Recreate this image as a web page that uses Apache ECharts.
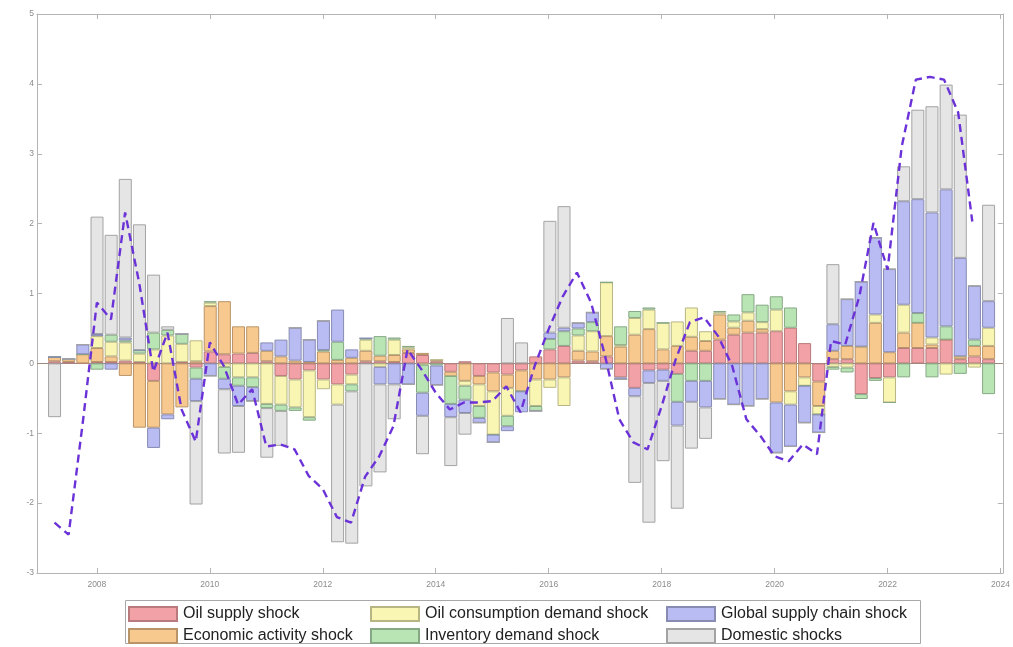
<!DOCTYPE html>
<html>
<head>
<meta charset="utf-8">
<script src="https://cdn.jsdelivr.net/npm/echarts@6/dist/echarts.min.js"></script>
<style>
html, body { margin: 0; padding: 0; background: #ffffff; }
#chart { width: 1013px; height: 647px; }
</style>
</head>
<body>
<div id="chart"></div>
<script>
// Quarterly periods of the historical decomposition
const quarters = [
  '2007Q2','2007Q3','2007Q4',
  '2008Q1','2008Q2','2008Q3','2008Q4',
  '2009Q1','2009Q2','2009Q3','2009Q4',
  '2010Q1','2010Q2','2010Q3','2010Q4',
  '2011Q1','2011Q2','2011Q3','2011Q4',
  '2012Q1','2012Q2','2012Q3','2012Q4',
  '2013Q1','2013Q2','2013Q3','2013Q4',
  '2014Q1','2014Q2','2014Q3','2014Q4',
  '2015Q1','2015Q2','2015Q3','2015Q4',
  '2016Q1','2016Q2','2016Q3','2016Q4',
  '2017Q1','2017Q2','2017Q3','2017Q4',
  '2018Q1','2018Q2','2018Q3','2018Q4',
  '2019Q1','2019Q2','2019Q3','2019Q4',
  '2020Q1','2020Q2','2020Q3','2020Q4',
  '2021Q1','2021Q2','2021Q3','2021Q4',
  '2022Q1','2022Q2','2022Q3','2022Q4',
  '2023Q1','2023Q2','2023Q3','2023Q4'
];

// Shock contributions
const oilSupply = [
  0.03, 0.02, 0.00, 0.02, 0.02, 0.04, 0.02, -0.25, 0.00, 0.02,
  -0.06, 0.17, 0.13, 0.14, 0.15, 0.03, -0.18, -0.23, -0.10, -0.23,
  -0.30, -0.16, 0.03, 0.03, 0.02, 0.15, 0.12, 0.03, -0.12, 0.03,
  -0.18, -0.13, -0.16, -0.10, 0.10, 0.20, 0.25, 0.04, 0.03, 0.10,
  -0.20, -0.35, -0.10, -0.09, -0.15, 0.18, 0.18, 0.34, 0.41, 0.44,
  0.44, 0.46, 0.51, 0.29, -0.26, 0.06, 0.06, -0.44, -0.21, -0.20,
  0.22, 0.22, 0.22, 0.34, 0.06, 0.10, 0.06
];
const economicActivity = [
  0.06, 0.04, 0.13, 0.20, 0.08, -0.18, -0.92, -0.67, -0.73, -0.63,
  0.03, 0.65, 0.76, 0.39, 0.38, 0.15, 0.10, 0.04, 0.02, 0.17,
  0.05, 0.08, 0.15, 0.08, 0.10, 0.05, 0.03, 0.02, -0.06, -0.25,
  -0.12, -0.27, -0.19, -0.30, -0.23, -0.23, -0.20, 0.14, 0.14, 0.29,
  0.24, 0.41, 0.49, 0.20, 0.25, 0.20, 0.14, 0.36, 0.10, 0.17,
  0.05, -0.56, -0.40, -0.20, -0.35, 0.12, 0.19, 0.24, 0.58, 0.16,
  0.22, 0.36, 0.05, 0.00, 0.04, 0.15, 0.19
];
const oilConsumption = [
  0.00, 0.00, 0.00, 0.17, 0.21, 0.26, 0.12, 0.20, 0.40, 0.26,
  0.30, 0.05, -0.05, -0.20, -0.20, -0.58, -0.41, -0.40, -0.67, -0.14,
  -0.29, -0.14, 0.16, -0.05, 0.22, 0.03, -0.02, 0.00, 0.00, -0.07,
  -0.31, -0.62, -0.40, 0.00, -0.38, -0.12, -0.41, 0.22, 0.29, 0.77,
  0.02, 0.24, 0.28, 0.38, 0.35, 0.42, 0.14, 0.03, 0.09, 0.12,
  0.10, 0.31, -0.19, -0.12, -0.12, -0.05, -0.06, 0.00, 0.12, -0.36,
  0.40, 0.00, 0.10, -0.16, 0.00, -0.06, 0.26
];
const inventoryDemand = [
  0.00, 0.00, 0.00, -0.09, 0.10, 0.03, 0.05, 0.24, 0.08, 0.14,
  -0.16, 0.02, -0.17, -0.12, -0.14, -0.06, -0.09, -0.05, -0.05, 0.02,
  0.26, -0.10, 0.02, 0.28, 0.03, 0.02, -0.40, -0.03, -0.40, -0.20,
  -0.17, 0.00, -0.15, 0.00, -0.07, 0.15, 0.21, 0.10, 0.13, 0.00,
  0.27, 0.10, 0.03, 0.00, -0.40, -0.25, -0.25, 0.02, 0.10, 0.26,
  0.25, 0.19, 0.29, 0.00, 0.00, -0.04, -0.07, -0.07, -0.04, 0.00,
  -0.20, 0.14, -0.20, 0.19, -0.15, 0.09, -0.44
];
const globalSupplyChain = [
  0.00, 0.00, 0.14, 0.03, -0.09, 0.04, 0.00, -0.29, -0.07, 0.00,
  -0.32, -0.18, -0.15, -0.29, -0.20, 0.12, 0.24, 0.47, 0.32, 0.42,
  0.46, 0.12, 0.00, -0.25, -0.30, -0.30, -0.33, -0.28, -0.19, -0.19,
  -0.07, -0.11, -0.07, -0.30, 0.00, 0.09, 0.05, 0.08, 0.14, -0.08,
  -0.03, -0.12, -0.18, -0.16, -0.34, -0.30, -0.38, -0.51, -0.59, -0.61,
  -0.51, -0.72, -0.60, -0.53, -0.26, 0.38, 0.67, 0.93, 1.10, 1.19,
  1.48, 1.63, 1.79, 1.96, 1.41, 0.77, 0.38
];
const domestic = [
  -0.77, 0.00, 0.00, 1.68, 1.43, 2.27, 1.80, 0.83, 0.05, 0.00,
  -1.48, 0.00, -0.92, -0.67, 0.00, -0.71, -0.50, 0.00, 0.00, 0.00,
  -1.97, -2.18, -1.76, -1.26, -0.50, 0.00, -0.55, 0.00, -0.70, -0.31,
  0.00, 0.00, 0.65, 0.30, 0.00, 1.60, 1.74, 0.00, 0.00, 0.00,
  0.00, -1.24, -2.00, -1.15, -1.19, -0.67, -0.45, 0.00, 0.00, 0.00,
  0.00, 0.00, 0.00, 0.00, 0.00, 0.86, 0.00, 0.00, 0.00, 0.00,
  0.50, 1.28, 1.52, 1.50, 2.05, 0.00, 1.38
];
// Observed series (dashed line); no value for the last quarter
const observed = [
  -2.28, -2.45, -0.85, 0.87, 0.63, 2.16, 1.15, -0.12, 0.44, -0.66,
  -1.12, 0.30, -0.04, -0.59, -0.37, -1.19, -1.16, -1.23, -1.61, -1.80,
  -2.20, -2.28, -1.62, -1.33, -0.90, 0.20, -0.09, -0.42, -0.66, -0.56,
  -0.56, -0.54, -0.33, -0.70, -0.04, 0.49, 0.96, 1.30, 0.87, 0.10,
  -0.80, -1.13, -1.23, -0.61, 0.06, 0.59, 0.66, 0.39, -0.04, -0.80,
  -1.04, -1.33, -1.40, -1.16, -1.30, 0.32, 0.27, 0.96, 2.01, 1.34,
  3.10, 4.06, 4.10, 4.06, 3.59, 2.03, null
];

const yearTicks = [2008, 2010, 2012, 2014, 2016, 2018, 2020, 2022, 2024];
const valueTicks = [-3, -2, -1, 0, 1, 2, 3, 4, 5];

// Plot frame in decimal years
const xMin = 2006.94;
const xMax = 2024.04;

// Decimal year of each quarter (start of quarter)
const xs = quarters.map(q => parseInt(q.slice(0, 4), 10) + (parseInt(q.slice(5), 10) - 1) / 4);

const shocks = [
  { name: 'Oil supply shock', values: oilSupply, fill: '#f2a2a6', edge: '#b87a7c' },
  { name: 'Economic activity shock', values: economicActivity, fill: '#f8c98e', edge: '#b99468' },
  { name: 'Oil consumption demand shock', values: oilConsumption, fill: '#f9f6b3', edge: '#b8b584' },
  { name: 'Inventory demand shock', values: inventoryDemand, fill: '#b9e5b5', edge: '#87a885' },
  { name: 'Global supply chain shock', values: globalSupplyChain, fill: '#b8bcf2', edge: '#888bb2' },
  { name: 'Domestic shocks', values: domestic, fill: '#e5e5e5', edge: '#a3a3a3' }
];

const W = 1013;
const plotLeft = 37, plotRight = 1005, plotTop = 14, plotBottom = 573;
const pxPerYear = (plotRight - plotLeft) / (xMax - xMin);
// The bar grid's category band spans exactly the quarters (half a quarter either side)
const barLeft = plotLeft + (xs[0] - 0.125 - xMin) * pxPerYear;
const barRightEdge = plotLeft + (xs[xs.length - 1] + 0.125 - xMin) * pxPerYear;

const chart = echarts.init(document.getElementById('chart'), null, { renderer: 'canvas' });

const axisGrey = '#b4b4b4';
const tickFont = { fontFamily: 'Liberation Sans, Arial, sans-serif', fontSize: 8.5, color: '#8c8c8c' };

const barSeries = shocks.map(s => ({
  name: s.name,
  type: 'bar',
  stack: 'hd',
  barWidth: 13,
  xAxisIndex: 2,
  yAxisIndex: 2,
  data: s.values,
  itemStyle: { color: s.fill, borderColor: s.edge, borderWidth: 1 },
  emphasis: { disabled: true },
  silent: true
}));

const lineSeries = {
  name: 'observed',
  type: 'line',
  xAxisIndex: 0,
  yAxisIndex: 0,
  data: xs.map((x, i) => [x, observed[i]]).filter(p => p[1] !== null),
  symbol: 'none',
  z: 10,
  lineStyle: { color: '#6b32d8', width: 2.4, type: [8, 5] },
  silent: true,
  markLine: {
    silent: true,
    symbol: 'none',
    label: { show: false },
    lineStyle: { color: '#9a8a80', width: 1, type: 'solid' },
    data: [{ yAxis: 0 }],
    z: 1
  }
};

const legendBase = {
  orient: 'vertical',
  top: 606,
  padding: 0,
  itemWidth: 48,
  itemHeight: 14,
  itemGap: 6,
  icon: 'rect',
  selectedMode: false,
  textStyle: { fontFamily: 'Liberation Sans, Arial, sans-serif', fontSize: 16, color: '#222222', padding: [0, 0, 0, 1] }
};

chart.setOption({
  animation: false,
  backgroundColor: '#ffffff',
  grid: [
    { left: plotLeft, right: W - plotRight, top: plotTop, bottom: 647 - plotBottom, containLabel: false },
    { left: barLeft, right: W - barRightEdge, top: plotTop, bottom: 647 - plotBottom, containLabel: false }
  ],
  xAxis: [
    {
      type: 'value', gridIndex: 0, min: xMin, max: xMax, position: 'bottom',
      axisLine: { show: true, onZero: false, lineStyle: { color: axisGrey } },
      axisTick: { show: true, inside: true, length: 5, customValues: yearTicks, lineStyle: { color: axisGrey } },
      axisLabel: { show: true, customValues: yearTicks, margin: 7, ...tickFont, formatter: v => String(v) },
      splitLine: { show: false }
    },
    {
      type: 'value', gridIndex: 0, min: xMin, max: xMax, position: 'top',
      axisLine: { show: true, onZero: false, lineStyle: { color: axisGrey } },
      axisTick: { show: true, inside: true, length: 5, customValues: yearTicks, lineStyle: { color: axisGrey } },
      axisLabel: { show: false },
      splitLine: { show: false }
    },
    {
      type: 'category', gridIndex: 1, data: quarters, boundaryGap: true,
      axisLine: { show: false }, axisTick: { show: false }, axisLabel: { show: false }, splitLine: { show: false }
    }
  ],
  yAxis: [
    {
      type: 'value', gridIndex: 0, min: -3, max: 5, interval: 1, position: 'left',
      axisLine: { show: true, onZero: false, lineStyle: { color: axisGrey } },
      axisTick: { show: true, inside: true, length: 5, lineStyle: { color: axisGrey } },
      axisLabel: { show: true, margin: 3, ...tickFont, customValues: valueTicks },
      splitLine: { show: false }
    },
    {
      type: 'value', gridIndex: 0, min: -3, max: 5, interval: 1, position: 'right',
      axisLine: { show: true, onZero: false, lineStyle: { color: axisGrey } },
      axisTick: { show: true, inside: true, length: 5, lineStyle: { color: axisGrey } },
      axisLabel: { show: false },
      splitLine: { show: false }
    },
    {
      type: 'value', gridIndex: 1, min: -3, max: 5, interval: 1,
      axisLine: { show: false }, axisTick: { show: false }, axisLabel: { show: false }, splitLine: { show: false }
    }
  ],
  legend: [
    { ...legendBase, left: 128, data: ['Oil supply shock', 'Economic activity shock'] },
    { ...legendBase, left: 370, data: ['Oil consumption demand shock', 'Inventory demand shock'] },
    { ...legendBase, left: 666, data: ['Global supply chain shock', 'Domestic shocks'] }
  ],
  graphic: [
    {
      type: 'rect', left: 125, top: 600, z: -10, silent: true,
      shape: { width: 795, height: 43 },
      style: { fill: '#ffffff', stroke: '#a8a8a8', lineWidth: 1 }
    }
  ],
  series: [...barSeries, lineSeries]
});
</script>
</body>
</html>
